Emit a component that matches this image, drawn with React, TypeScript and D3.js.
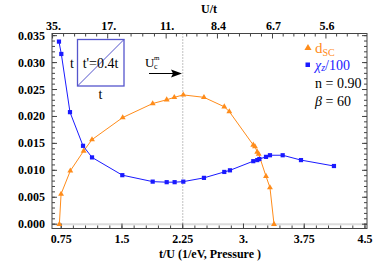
import * as d3 from 'd3';
import React from 'react';

// d_SC (orange triangles)
const dscX = [0.727, 0.748, 0.862, 1.027, 1.13, 1.509, 1.879, 2.052, 2.146, 2.257, 2.512, 2.763, 2.825, 3.121, 3.142, 3.17, 3.188, 3.278, 3.327, 3.377];
const dscY = [0.0, 0.0056, 0.0099, 0.0136, 0.0157, 0.0198, 0.0224, 0.0231, 0.02355, 0.024, 0.02355, 0.0218, 0.0209, 0.0147, 0.0144, 0.0134, 0.013, 0.0089, 0.0068, 0.0];

// chi_z / 100 (blue squares)
const chiX = [0.722, 0.751, 0.858, 1.019, 1.13, 1.504, 1.879, 2.052, 2.15, 2.257, 2.512, 2.763, 2.833, 3.121, 3.17, 3.196, 3.278, 3.327, 3.484, 3.71, 4.117];
const chiY = [0.0339, 0.0316, 0.0208, 0.01455, 0.0124, 0.0091, 0.0079, 0.0078, 0.0078, 0.0079, 0.0086, 0.0097, 0.01, 0.0117, 0.0119, 0.0121, 0.0125, 0.0128, 0.0128, 0.0119, 0.0108];

const bottomTicks = [0.75, 1.5, 2.25, 3, 3.75, 4.5];
const bottomLabels = ['0.75', '1.5', '2.25', '3.', '3.75', '4.5'];
const topTicks = [35, 17, 11, 8.4, 6.7, 5.6];
const topLabels = ['35.', '17.', '11.', '8.4', '6.7', '5.6'];
const yTicks = [0, 0.005, 0.01, 0.015, 0.02, 0.025, 0.03, 0.035];
const uCm = 2.25;
const K = 22.5; // t/U axis value = K / (U/t)

const orange = '#ff8c1a';
const blue = '#1a1aff';
const font = '"Liberation Serif", "DejaVu Serif", serif';

export default function App() {
  const x = d3.scaleLinear().domain([0.636, 4.525]).range([52, 367]);
  const y = d3.scaleLinear().domain([-0.0008, 0.0354]).range([228.5, 33.5]);
  const [x0, x1] = x.range();
  const [y0, y1] = y.range();

  const line = d3.line<[number, number]>().x(d => x(d[0])).y(d => y(d[1]));
  const dsc = dscX.map((v, i) => [v, dscY[i]] as [number, number]);
  const chi = chiX.map((v, i) => [v, chiY[i]] as [number, number]);
  const tri = d3.symbol().type(d3.symbolTriangle).size(15)() as string;
  const triLegend = d3.symbol().type(d3.symbolTriangle).size(22)() as string;

  const minorX = d3.range(0.75 - 0.15, 4.52, 0.15).filter(v => v > 0.636);
  const minorY = d3.range(0, 0.0355, 0.001);
  const topPos = topTicks.map(u => x(K / u));
  const topMinor: number[] = [];
  for (let i = 0; i < topPos.length - 1; i++) {
    for (let j = 1; j < 5; j++) topMinor.push(topPos[i] + ((topPos[i + 1] - topPos[i]) * j) / 5);
  }
  const step = topPos[topPos.length - 1] - topPos[topPos.length - 2];
  for (let j = 1; j < 5; j++) {
    const p = topPos[topPos.length - 1] + (step * j) / 5;
    if (p < x1) topMinor.push(p);
  }

  const frame = '#444';

  return (
    <svg width={374} height={264} style={{ position: 'absolute', left: 0, top: 0, background: '#fff' }} fontFamily={font}>
      {/* zero line */}
      <line x1={x0} x2={x1} y1={y(0)} y2={y(0)} stroke="#dcdcdc" strokeWidth={2} />
      {/* U_c^m dotted line */}
      <line x1={x(uCm)} x2={x(uCm)} y1={y1} y2={y0} stroke="#999" strokeDasharray="1,2" strokeWidth={1.2} />

      {/* frame */}
      <rect x={x0} y={y1} width={x1 - x0} height={y0 - y1} fill="none" stroke={frame} strokeWidth={1} />

      {/* bottom ticks */}
      {bottomTicks.map((t, i) => (
        <g key={'b' + t}>
          <line x1={x(t)} x2={x(t)} y1={y0} y2={y0 - 5} stroke={frame} />
          <text x={x(t)} y={243} textAnchor="middle" fontWeight="bold" fontSize={12}>{bottomLabels[i]}</text>
        </g>
      ))}
      {minorX.map(t => (
        <line key={'bm' + t} x1={x(t)} x2={x(t)} y1={y0} y2={y0 - 3} stroke={frame} />
      ))}
      {/* top ticks */}
      {topPos.map((p, i) => (
        <g key={'t' + i}>
          <line x1={p} x2={p} y1={y1} y2={y1 + 5} stroke={frame} />
          <text x={p + 1} y={30} textAnchor="middle" fontWeight="bold" fontSize={12}>{topLabels[i]}</text>
        </g>
      ))}
      {topMinor.map((p, i) => (
        <line key={'tm' + i} x1={p} x2={p} y1={y1} y2={y1 + 3} stroke={frame} />
      ))}
      {/* y ticks */}
      {yTicks.map(t => (
        <g key={'y' + t}>
          <line x1={x0} x2={x0 + 5} y1={y(t)} y2={y(t)} stroke={frame} />
          <line x1={x1} x2={x1 - 5} y1={y(t)} y2={y(t)} stroke={frame} />
          <text x={45} y={y(t) + 4} textAnchor="end" fontWeight="bold" fontSize={12}>{d3.format('.3f')(t)}</text>
        </g>
      ))}
      {minorY.map(t => (
        <g key={'ym' + t}>
          <line x1={x0} x2={x0 + 3} y1={y(t)} y2={y(t)} stroke={frame} />
          <line x1={x1} x2={x1 - 3} y1={y(t)} y2={y(t)} stroke={frame} />
        </g>
      ))}

      {/* axis titles */}
      <text x={209} y={13} textAnchor="middle" fontWeight="bold" fontSize={12}>U/t</text>
      <text x={210} y={258} textAnchor="middle" fontWeight="bold" fontSize={12}>t/U (1/eV, Pressure )</text>

      {/* series */}
      <path d={line(dsc) as string} fill="none" stroke={orange} strokeWidth={1} />
      {dsc.map((d, i) => (
        <path key={'o' + i} d={tri} transform={`translate(${x(d[0])},${y(d[1])})`} fill={orange} />
      ))}
      <path d={line(chi) as string} fill="none" stroke={blue} strokeWidth={1} />
      {chi.map((d, i) => (
        <rect key={'s' + i} x={x(d[0]) - 2.1} y={y(d[1]) - 2.1} width={4.2} height={4.2} fill={blue} />
      ))}

      {/* inset lattice */}
      <rect x={77.5} y={39.5} width={46.5} height={46.5} fill="none" stroke="#5555cc" strokeWidth={1.3} />
      <line x1={77.5} y1={86} x2={124} y2={39.5} stroke="#5555cc" strokeWidth={1} />
      <text x={72} y={68} textAnchor="middle" fontSize={14}>t</text>
      <text x={100.5} y={99} textAnchor="middle" fontSize={14}>t</text>
      <text x={100.5} y={68} textAnchor="middle" fontSize={14}>t'=0.4t</text>

      {/* U_c^m arrow */}
      <text x={145} y={67} fontSize={13}>U</text>
      <text x={154} y={60} fontSize={7}>m</text>
      <text x={154} y={69} fontSize={8}>c</text>
      <line x1={149} y1={73.5} x2={174} y2={73.5} stroke="#000" strokeWidth={1} />
      <path d="M182,73.5 L171,69.5 L173,73.5 L171,77.5 Z" fill="#000" />

      {/* legend */}
      <path d={triLegend} transform="translate(308,48)" fill={orange} />
      <text x={315} y={53} fill={orange} fontSize={15}>d<tspan fontSize={10} dy={3}>SC</tspan></text>
      <rect x={305.5} y={62.5} width={4.5} height={4.5} fill={blue} />
      <text x={315} y={70} fill={blue} fontSize={14}><tspan fontStyle="italic">χ</tspan><tspan fontStyle="italic" fontSize={10} dy={1}>z</tspan><tspan dy={-1}>/100</tspan></text>
      <text x={315} y={88} fontSize={14}>n = 0.90</text>
      <text x={315} y={106} fontSize={14}><tspan fontStyle="italic">β</tspan> = 60</text>
    </svg>
  );
}
